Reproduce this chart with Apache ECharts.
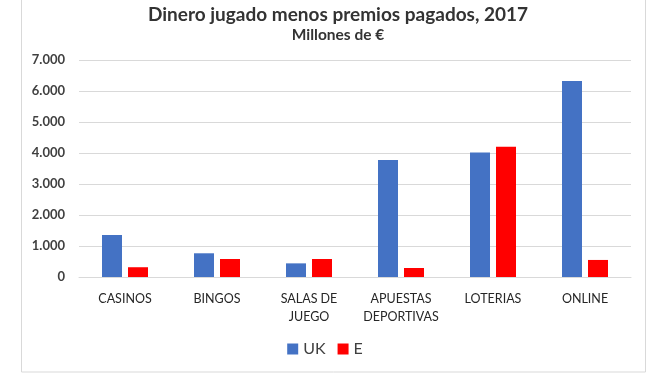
<!DOCTYPE html>
<html><head><meta charset="utf-8">
<script src="https://cdn.jsdelivr.net/npm/echarts@6/dist/echarts.min.js"></script>
<style>html,body{margin:0;padding:0;background:#fff}#c{width:650px;height:374px}</style>
</head><body><div id="c"></div>
<script>
const categories = ['CASINOS','BINGOS','SALAS DE\nJUEGO','APUESTAS\nDEPORTIVAS','LOTERIAS','ONLINE'];
const ukValues = [1355, 765, 440, 3775, 4020, 6320];
const eValues = [315, 580, 580, 290, 4200, 550];
const yTicks = [0, 1000, 2000, 3000, 4000, 5000, 6000, 7000];
const seriesNames = ['UK', 'E'];

const chart = echarts.init(document.getElementById('c'), null, {renderer:'canvas'});
const FONT = 'Lato';
chart.setOption({
  animation: false,
  backgroundColor: '#fff',
  graphic: [{
    type: 'rect', shape: {x: 21.5, y: -2, width: 624, height: 374},
    style: {fill: 'none', stroke: '#d9d9d9', lineWidth: 1}, silent: true
  }],
  title: {
    text: 'Dinero jugado menos premios pagados, 2017',
    subtext: 'Millones de €',
    left: 333, top: 0, textAlign: 'center', itemGap: 3,
    textStyle: {fontFamily: FONT, fontSize: 19, fontWeight: 'bold', color: '#333'},
    subtextStyle: {fontFamily: FONT, fontSize: 15.5, fontWeight: 'bold', color: '#333'}
  },
  legend: {
    data: seriesNames, left: 'center', top: 336, itemWidth: 11, itemHeight: 11, itemGap: 12,
    icon: 'rect',
    textStyle: {fontFamily: FONT, fontSize: 16, color: '#404040'}
  },
  grid: {left: 79, right: 19, top: 60, bottom: 97},
  xAxis: {
    type: 'category', data: categories,
    axisLine: {show: true, lineStyle: {color: '#d9d9d9'}},
    axisTick: {show: false},
    axisLabel: {fontFamily: FONT, fontSize: 12.5, color: '#262626', margin: 13, lineHeight: 18, interval: 0}
  },
  yAxis: {
    type: 'value', min: yTicks[0], max: yTicks[yTicks.length-1], interval: 1000,
    axisLine: {show: false}, axisTick: {show: false},
    splitLine: {lineStyle: {color: '#d9d9d9'}},
    axisLabel: {fontFamily: FONT, fontSize: 13, fontWeight: 'bold', color: '#404040', margin: 14,
      formatter: v => v === 0 ? '0' : (v/1000).toFixed(0) + '.000'}
  },
  series: [
    {name: seriesNames[0], type: 'bar', data: ukValues, barWidth: 20, barGap: '30%',
     itemStyle: {color: '#4472C4'}},
    {name: seriesNames[1], type: 'bar', data: eValues, barWidth: 20,
     itemStyle: {color: '#FF0000'}}
  ]
});
</script></body></html>
